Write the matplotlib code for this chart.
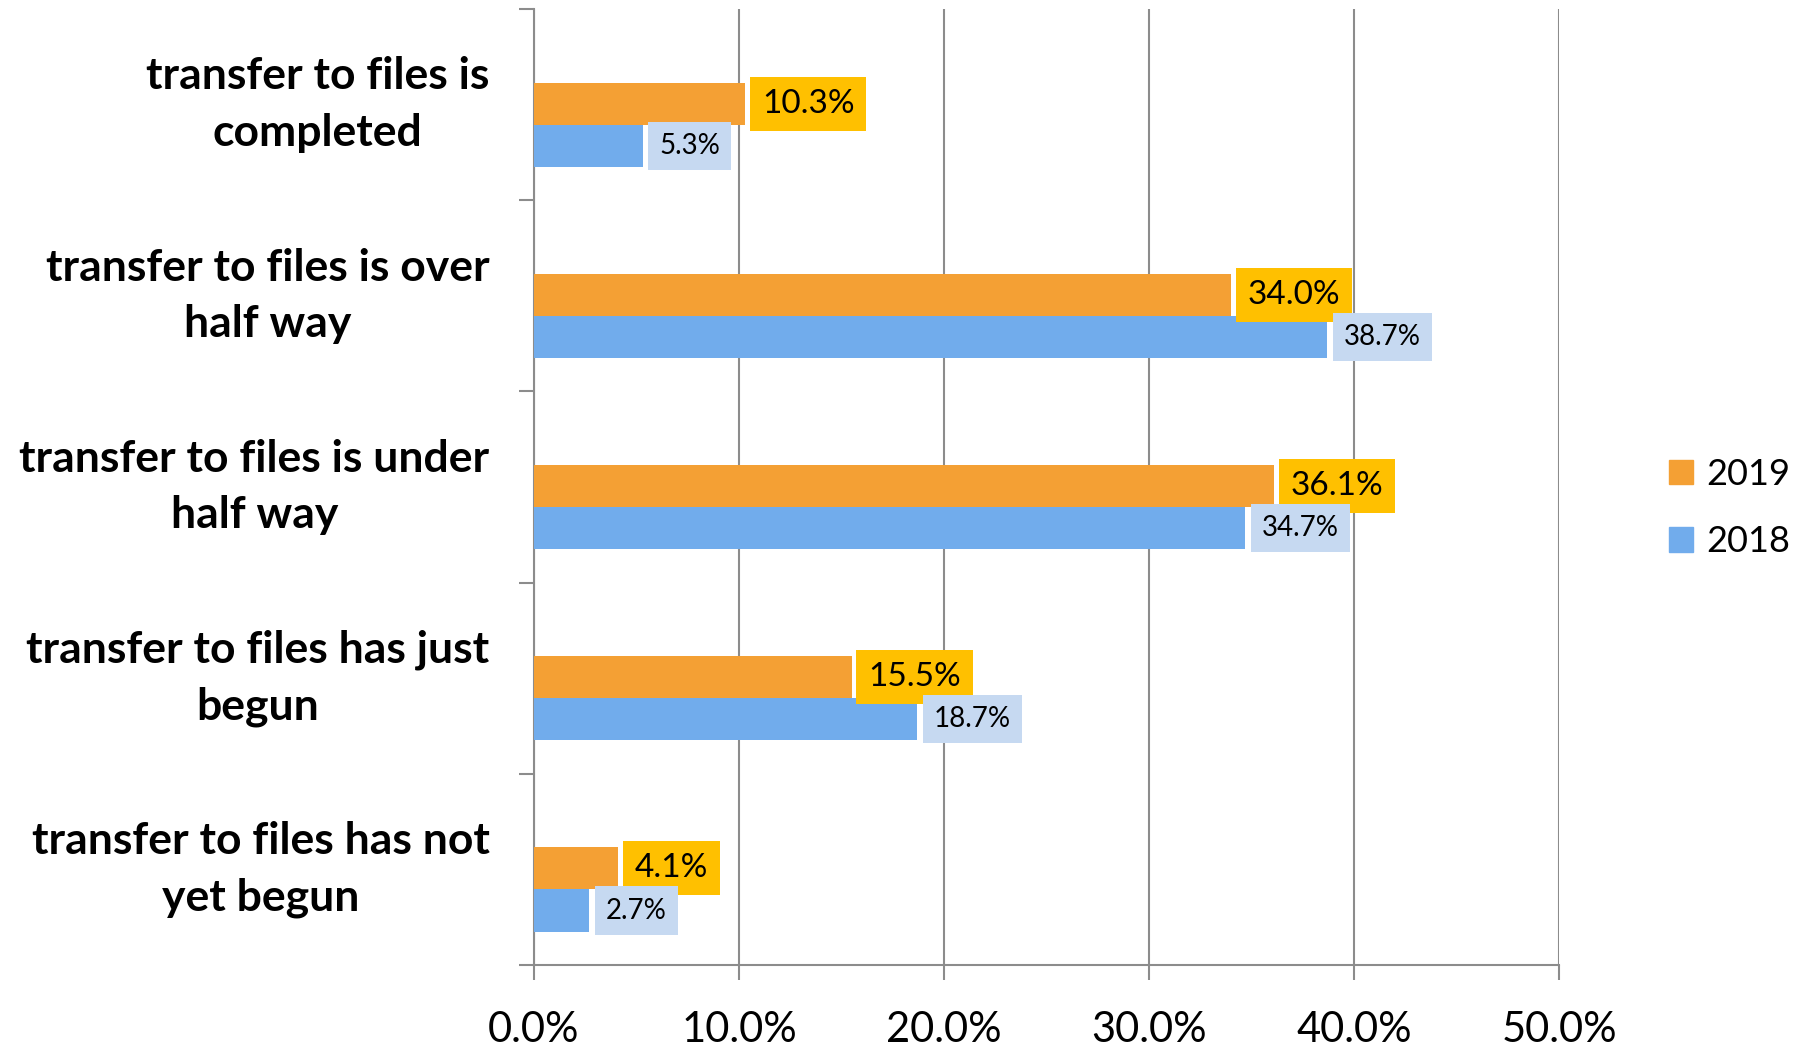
import matplotlib.pyplot as plt
from matplotlib.patches import Patch

plt.rcParams['font.family'] = ['Lato', 'DejaVu Sans']

# categories, top to bottom
categories = [
    "transfer to files is\ncompleted",
    "transfer to files is over\nhalf way",
    "transfer to files is under\nhalf way",
    "transfer to files has just\nbegun",
    "transfer to files has not\nyet begun",
]
values_2019 = [10.3, 34.0, 36.1, 15.5, 4.1]
values_2018 = [5.3, 38.7, 34.7, 18.7, 2.7]
x_ticks = [0, 10, 20, 30, 40, 50]

c2019 = "#F4A034"
c2018 = "#71ACEC"
lab2019 = "#FFC000"
lab2018 = "#C6D9F1"
grid_c = "#8C8C8C"

fig = plt.figure(figsize=(18.08, 10.48), dpi=100)
ax = fig.add_axes([534/1808, 1 - 965/1048, (1559-534)/1808, (965-9)/1048])

bar_h = 0.22
centers = [i + 0.5 for i in range(len(categories))]
y19 = [c - 0.005 for c in centers]
y18 = [c + 0.215 for c in centers]

ax.barh(y19, values_2019, height=bar_h, color=c2019, zorder=3)
ax.barh(y18, values_2018, height=bar_h, color=c2018, zorder=3)

# value labels
for v, y in zip(values_2019, y19):
    ax.annotate(f"{v:.1f}%", xy=(v, y), xytext=(12, 0), textcoords="offset points",
                ha="left", va="center", fontsize=24, color="black", zorder=4,
                bbox=dict(boxstyle="square,pad=0.36", fc=lab2019, ec="none"))
for v, y in zip(values_2018, y18):
    ax.annotate(f"{v:.1f}%", xy=(v, y), xytext=(12, 0), textcoords="offset points",
                ha="left", va="center", fontsize=20, color="black", zorder=4,
                bbox=dict(boxstyle="square,pad=0.4", fc=lab2018, ec="none"))

ax.set_xlim(0, 50)
ax.set_ylim(len(categories), 0)

ax.set_xticks(x_ticks)
ax.set_xticklabels([f"{t:.1f}%" for t in x_ticks], fontsize=30)
ax.tick_params(axis="x", length=11, width=1.5, color=grid_c, pad=22)

# category boundaries as major ticks, labels on minor ticks
ax.set_yticks(range(len(categories) + 1))
ax.set_yticklabels([])
ax.set_yticks(centers, minor=True)
ax.set_yticklabels(categories, minor=True, fontsize=32, fontweight="bold",
                   multialignment="center", linespacing=1.5, va="center")
ax.tick_params(axis="y", which="major", length=11, width=1.5, color=grid_c)
ax.tick_params(axis="y", which="minor", length=0, pad=32)

ax.grid(axis="x", color=grid_c, linewidth=1.5, zorder=0)
for s in ["top", "right"]:
    ax.spines[s].set_visible(False)
for s in ["left", "bottom"]:
    ax.spines[s].set_color(grid_c)
    ax.spines[s].set_linewidth(1.5)

handles = [Patch(color=c2019, label="2019"), Patch(color=c2018, label="2018")]
fig.legend(handles=handles, loc="center left", bbox_to_anchor=(1669/1808, 1 - 508/1048),
           frameon=False, fontsize=26, handlelength=0.67, handleheight=0.67,
           handletextpad=0.35, labelspacing=0.95, borderpad=0, borderaxespad=0)

fig.savefig("out.png", dpi=100)
